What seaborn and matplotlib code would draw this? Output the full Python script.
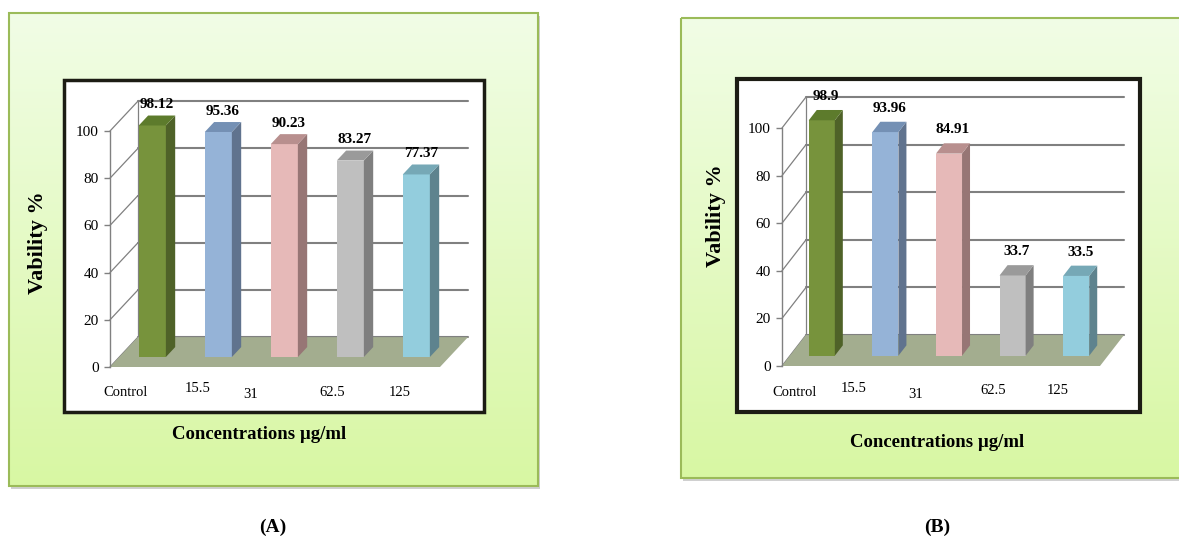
import numpy as np
import pandas as pd
import seaborn as sns
import matplotlib
matplotlib.use("Agg")
import matplotlib.pyplot as plt
import matplotlib.colors as mcolors
from matplotlib.patches import Polygon, Rectangle

# ---- data -------------------------------------------------------------
categories = ["Control", "15.5", "31", "62.5", "125"]
viability_a = [98.12, 95.36, 90.23, 83.27, 77.37]
viability_b = [98.9, 93.96, 84.91, 33.7, 33.5]
y_ticks = [0, 20, 40, 60, 80, 100]
panel_tags = ["(A)", "(B)"]
x_title = "Concentrations µg/ml"
y_title = "Vability %"

# ---- styling ----------------------------------------------------------
front_colors = ["#77933c", "#95b3d7", "#e6b9b8", "#bfbfbf", "#93cddd"]
side_colors = ["#4f6228", "#60738e", "#977675", "#7f7f7f", "#5e838e"]
top_colors = ["#5d7b2c", "#7490b4", "#b88f8e", "#9a9a9a", "#76a8b6"]
grid_color = "#808080"
floor_color = "#a3ad8f"

sns.set_theme(style="white")
plt.rcParams["font.family"] = ["Liberation Serif", "DejaVu Serif"]

W, H = 1179, 539
fig = plt.figure(figsize=(W / 100, H / 100), dpi=100)
fig.patch.set_facecolor("white")

# background layer in pixel units
bg = fig.add_axes([0, 0, 1, 1], zorder=0)
bg.set_xlim(0, W)
bg.set_ylim(H, 0)
bg.axis("off")


def panel_frame(outer, inner, box_lw):
    x0, y0, x1, y1 = outer
    bg.add_patch(Rectangle((x0 + 2, y0 + 3), x1 - x0, y1 - y0,
                           facecolor="#bdbdbd", edgecolor="none", alpha=0.7, zorder=0))
    t = np.linspace(0, 1, 256)[:, None, None]
    c_top = np.array(mcolors.to_rgb("#f1fde6"))
    c_bot = np.array(mcolors.to_rgb("#d8f7a3"))
    img = c_top + (c_bot - c_top) * t
    bg.imshow(img, extent=(x0, x1, y1, y0), origin="upper", aspect="auto",
              interpolation="bilinear", zorder=1)
    bg.add_patch(Rectangle((x0, y0), x1 - x0, y1 - y0, fill=False,
                           edgecolor="#9bbb59", lw=1.5, zorder=2))
    ix0, iy0, ix1, iy1 = inner
    bg.add_patch(Rectangle((ix0, iy0), ix1 - ix0, iy1 - iy0, facecolor="white",
                           edgecolor="#1c1c14", lw=box_lw, zorder=3))


def draw_panel(values, rect_px, depth, bar_width, label_gap,
               nudge_x, nudge_y, xlabel_xy, ylabel_xy):
    left, right, top, bottom = rect_px
    ax = fig.add_axes([left / W, 1 - bottom / H, (right - left) / W, (bottom - top) / H],
                      zorder=2)
    ax.patch.set_alpha(0)
    df = pd.DataFrame({"conc": categories, "viab": values})
    sns.barplot(data=df, x="conc", y="viab", hue="conc", order=categories,
                hue_order=categories, palette=front_colors, saturation=1,
                width=bar_width, errorbar=None, legend=False, ax=ax)
    bars = sorted([p for p in ax.patches if isinstance(p, Rectangle)],
                  key=lambda p: p.get_x())
    ax.set_xlim(-0.5, len(categories) - 0.5)
    ax.set_ylim(0, 100)
    dx, dy = depth
    x_lo, x_hi = -0.5, len(categories) - 0.5

    # floor
    ax.add_patch(Polygon([(x_lo, 0), (x_hi, 0), (x_hi + dx, dy), (x_lo + dx, dy)],
                         closed=True, facecolor=floor_color, edgecolor="none",
                         zorder=1, clip_on=False))
    # back wall grid, side wall diagonals
    for v in y_ticks:
        ax.plot([x_lo + dx, x_hi + dx], [v + dy, v + dy], color=grid_color,
                lw=1.5, zorder=0.5, clip_on=False)
        ax.plot([x_lo, x_lo + dx], [v, v + dy], color=grid_color,
                lw=0.9, zorder=0.5, clip_on=False)
    ax.plot([x_lo + dx, x_lo + dx], [dy, 100 + dy], color=grid_color,
            lw=0.9, zorder=0.5, clip_on=False)

    # bars: front face moved to one third of the depth, plus side and top faces
    d = dx / 3, dy / 3
    for i, p in enumerate(bars):
        x, w, h = p.get_x(), p.get_width(), p.get_height()
        fx, fy = x + d[0], d[1]
        p.set_x(fx)
        p.set_y(fy)
        p.set_edgecolor("none")
        p.set_zorder(3)
        p.set_clip_on(False)
        ax.add_patch(Polygon([(fx + w, fy), (fx + w + d[0], fy + d[1]),
                              (fx + w + d[0], fy + h + d[1]), (fx + w, fy + h)],
                             closed=True, facecolor=side_colors[i], edgecolor="none",
                             zorder=3, clip_on=False))
        ax.add_patch(Polygon([(fx, fy + h), (fx + w, fy + h),
                              (fx + w + d[0], fy + h + d[1]), (fx + d[0], fy + h + d[1])],
                             closed=True, facecolor=top_colors[i], edgecolor="none",
                             zorder=3, clip_on=False))
        ax.annotate(f"{values[i]:g}", xy=(i + dx / 2, values[i] + 2 * dy / 3),
                    xytext=(0, label_gap), textcoords="offset points",
                    ha="center", va="bottom", fontsize=11, fontweight="bold",
                    color="black", zorder=4, annotation_clip=False)

    # axes decoration
    for s in ["top", "right", "bottom"]:
        ax.spines[s].set_visible(False)
    ax.spines["left"].set_color(grid_color)
    ax.spines["left"].set_linewidth(1.0)
    ax.set_yticks(y_ticks)
    ax.set_yticklabels([str(t) for t in y_ticks])
    ax.tick_params(axis="y", left=True, length=4, width=1, color=grid_color,
                   labelsize=11, pad=4, labelcolor="black")
    ax.tick_params(axis="x", bottom=False, labelbottom=False)

    for i, lab in enumerate(categories):
        ax.annotate(lab, xy=(i, 0), xycoords=("data", "axes fraction"),
                    xytext=(nudge_x[i] * 0.72, -nudge_y[i] * 0.72),
                    textcoords="offset points", ha="center", va="center",
                    fontsize=10.5, color="black", annotation_clip=False)

    ax.set_xlabel(x_title, fontsize=13.5, fontweight="bold", color="black")
    ax.xaxis.set_label_coords(*xlabel_xy)
    ax.xaxis.label.set_va("center")
    ax.set_ylabel(y_title, fontsize=16, fontweight="bold", color="black")
    ax.yaxis.set_label_coords(*ylabel_xy)
    ax.yaxis.label.set_va("center")
    return ax


# panel A
panel_frame((9, 13, 538, 486), (64, 80, 484, 412), 2.5)
draw_panel(viability_a, (110, 440, 131, 367), (0.424, 12.66), 0.41, 3,
           [-17, -11, -24, -9, -7], [26, 22, 28, 25, 25],
           (0.452, -0.287), (-0.218, 0.525))

# panel B
panel_frame((681, 18, 1190, 478), (737, 79, 1140, 412), 3)
draw_panel(viability_b, (782, 1100, 128, 366), (0.377, 13.0), 0.41, 5,
           [-19, -24, -25, -11, -10], [26, 23, 29, 25, 25],
           (0.487, -0.3235), (-0.2075, 0.63))

bg.text(273, 527, panel_tags[0], ha="center", va="center", fontsize=14,
        fontweight="bold", color="black", zorder=5)
bg.text(937, 527, panel_tags[1], ha="center", va="center", fontsize=14,
        fontweight="bold", color="black", zorder=5)

fig.savefig("out.png", dpi=100, facecolor="white")
